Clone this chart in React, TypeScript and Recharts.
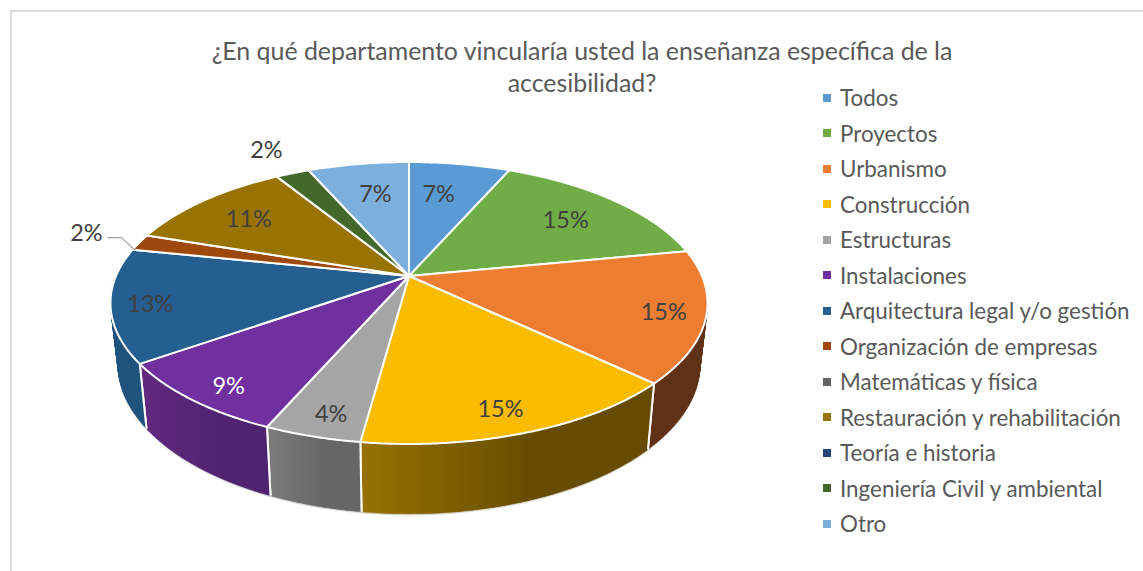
import React from 'react';
import { PieChart, Pie, Legend, Text } from 'recharts';

const TITLE_LINES = [
  '¿En qué departamento vincularía usted la enseñanza específica de la',
  'accesibilidad?',
];

const CATEGORIES = [
  'Todos',
  'Proyectos',
  'Urbanismo',
  'Construcción',
  'Estructuras',
  'Instalaciones',
  'Arquitectura legal y/o gestión',
  'Organización de empresas',
  'Matemáticas y física',
  'Restauración y rehabilitación',
  'Teoría e historia',
  'Ingeniería Civil y ambiental',
  'Otro',
];

// percentages, estimated from the slice edges
const VALUES = [6.6, 15.4, 15.1, 15.1, 4.4, 8.7, 13, 1.9, 0, 11.1, 0, 2.2, 6.6];

const COLORS = [
  '#5b9bd5', '#70ad47', '#ed7d31', '#fbbc00', '#a5a5a5', '#7030a0', '#255e91',
  '#9e480e', '#636363', '#997300', '#264478', '#43682b', '#7cafdd',
];

// side wall shading, left to right
const WALL_FROM = [
  '#3f6f9b', '#4f7b32', '#5f3116', '#977200', '#7c7c7c', '#62297f', '#1f527c',
  '#6f330a', '#4a4a4a', '#6b5100', '#1b3055', '#2f4a1e', '#57799b',
];
const WALL_TO = [
  '#3f6f9b', '#4f7b32', '#5f3116', '#654c00', '#666666', '#502370', '#1f527c',
  '#6f330a', '#4a4a4a', '#6b5100', '#1b3055', '#2f4a1e', '#57799b',
];

// label nudges from the default anchor, because Excel placed them by hand-ish best fit
const LABEL_NUDGE = [
  [-10, 4], [-1, 1], [35, 5], [7, 21], [-9, 23], [-24, 20], [-37, 6],
  [-118, -19], [0, 0], [-2, 0], [0, 0], [-52, -47], [6, 4],
];
const LABEL_COLORS = CATEGORIES.map((c) => (c === 'Instalaciones' ? '#ffffff' : '#404040'));

const rows = CATEGORIES.map((name, i) => ({ name, value: VALUES[i], fill: COLORS[i] }));

const FONT = 'Lato, sans-serif';
const TILT = 0.4635;
const PERSPECTIVE = 0.1915;
const FLOOR_SCALE_X = 0.975;
const FLOOR_SCALE_Y = 1.065;
const FLOOR_DROP = 59;

// polar -> screen on the tilted disc
function project(cx: number, cy: number, radius: number, angle: number, f = 1) {
  const rad = (angle * Math.PI) / 180;
  const d = 1 + PERSPECTIVE * f * Math.sin(rad);
  return {
    x: cx + (radius * f * Math.cos(rad)) / d,
    y: cy - (radius * TILT * f * Math.sin(rad)) / d,
  };
}

function floorPoint(cx: number, cy: number, radius: number, angle: number) {
  const p = project(cx, cy, radius, angle);
  return {
    x: cx + (p.x - cx) * FLOOR_SCALE_X,
    y: cy + FLOOR_DROP + (p.y - cy) * FLOOR_SCALE_Y,
  };
}

function arcAngles(start: number, end: number) {
  const n = Math.max(2, Math.ceil(Math.abs(end - start) * 2));
  return Array.from({ length: n + 1 }, (_, i) => start + ((end - start) * i) / n);
}

function TopSlice(props: any) {
  const { cx, cy, outerRadius, startAngle, endAngle, fill } = props;
  if (Math.abs(endAngle - startAngle) < 0.01) return null;
  const pts = arcAngles(startAngle, endAngle).map((a) => project(cx, cy, outerRadius, a));
  const d = `M${cx},${cy}` + pts.map((p) => `L${p.x},${p.y}`).join('') + 'Z';
  return <path d={d} fill={fill} stroke="#ffffff" strokeWidth={2} strokeLinejoin="round" />;
}

function WallSlice(props: any) {
  const { cx, cy, outerRadius, startAngle, endAngle, name } = props;
  if (Math.abs(endAngle - startAngle) < 0.01) return null;
  const i = CATEGORIES.indexOf(name);
  const angles = arcAngles(startAngle, endAngle);
  const top = angles.map((a) => project(cx, cy, outerRadius, a));
  const floor = angles.map((a) => floorPoint(cx, cy, outerRadius, a));
  let d = '';
  for (let k = 0; k < angles.length - 1; k++) {
    d += `M${top[k].x},${top[k].y}L${top[k + 1].x},${top[k + 1].y}L${floor[k + 1].x},${floor[k + 1].y}L${floor[k].x},${floor[k].y}Z`;
  }
  const xs = top.concat(floor).map((p) => p.x);
  const id = `wall-${i}`;
  const last = angles.length - 1;
  const rim = floor.map((p, k) => `${k ? 'L' : 'M'}${p.x},${p.y + 1}`).join('');
  return (
    <g>
      <defs>
        <linearGradient id={id} gradientUnits="userSpaceOnUse" x1={Math.min(...xs)} x2={Math.max(...xs)} y1={0} y2={0}>
          <stop offset="0%" stopColor={WALL_FROM[i]} />
          <stop offset="60%" stopColor={WALL_TO[i]} />
          <stop offset="100%" stopColor={WALL_TO[i]} />
        </linearGradient>
      </defs>
      <path d={rim} fill="none" stroke="#d9d9d9" strokeWidth={1} />
      <path d={d} fill={`url(#${id})`} stroke={`url(#${id})`} strokeWidth={0.6} />
      <path
        d={`M${top[0].x},${top[0].y}L${floor[0].x},${floor[0].y}M${top[last].x},${top[last].y}L${floor[last].x},${floor[last].y}`}
        stroke="#ffffff"
        strokeWidth={2}
      />
    </g>
  );
}

function renderLabel(props: any) {
  const { cx, cy, outerRadius, midAngle, percent, index } = props;
  if (!percent) return null;
  const p = project(cx, cy, outerRadius, midAngle, 0.75);
  const x = p.x + LABEL_NUDGE[index][0];
  const y = p.y + LABEL_NUDGE[index][1];
  return (
    <g key={index}>
      {CATEGORIES[index] === 'Organización de empresas' && (
        <path d={`M${x + 21},${y + 6}h14l14,13`} fill="none" stroke="#a6a6a6" strokeWidth={1.2} />
      )}
      <text
        x={x}
        y={y}
        textAnchor="middle"
        dominantBaseline="central"
        fontFamily={FONT}
        fontSize={23.5}
        fill={LABEL_COLORS[index]}
      >
        {`${Math.round(percent * 100)}%`}
      </text>
    </g>
  );
}

function LegendList({ payload }: any) {
  const items = (payload || []).filter((entry: any) => entry.type !== 'none');
  return (
    <div style={{ fontFamily: FONT, fontSize: 22.4, color: '#595959' }}>
      {items.map((entry: any) => (
        <div key={entry.value} style={{ display: 'flex', alignItems: 'center', height: 35.5, whiteSpace: 'nowrap' }}>
          <span style={{ width: 8, height: 8, marginRight: 9, background: entry.color }} />
          {entry.value}
        </div>
      ))}
    </div>
  );
}

export default function App() {
  return (
    <div style={{ position: 'absolute', left: 0, top: 0, width: 1143, height: 571, background: '#ffffff', overflow: 'hidden' }}>
      <div
        style={{
          position: 'absolute',
          left: 10,
          top: 10,
          width: 1143,
          height: 571,
          borderLeft: '2px solid #dcdcdc',
          borderTop: '2px solid #dcdcdc',
        }}
      />
      <div style={{ position: 'absolute', left: 0, top: 0 }}>
        <PieChart width={1143} height={571} margin={{ top: 0, right: 0, bottom: 0, left: 0 }}>
          {TITLE_LINES.map((line, i) => (
            <Text
              key={line}
              x={582}
              y={51 + i * 32}
              textAnchor="middle"
              verticalAnchor="middle"
              fontFamily={FONT}
              fontSize={24.9}
              fill="#595959"
            >
              {line}
            </Text>
          ))}
          <Pie
            data={rows}
            dataKey="value"
            nameKey="name"
            cx={409}
            cy={276}
            outerRadius={293}
            startAngle={90}
            endAngle={-270}
            legendType="none"
            isAnimationActive={false}
            shape={WallSlice}
            inactiveShape={WallSlice}
            label={false}
            labelLine={false}
          />
          <Pie
            data={rows}
            dataKey="value"
            nameKey="name"
            cx={409}
            cy={276}
            outerRadius={293}
            startAngle={90}
            endAngle={-270}
            isAnimationActive={false}
            shape={TopSlice}
            inactiveShape={TopSlice}
            label={renderLabel}
            labelLine={false}
          />
          <Legend
            layout="vertical"
            itemSorter={null}
            content={<LegendList />}
            wrapperStyle={{ left: 823, top: 80, width: 320 }}
          />
        </PieChart>
      </div>
    </div>
  );
}
